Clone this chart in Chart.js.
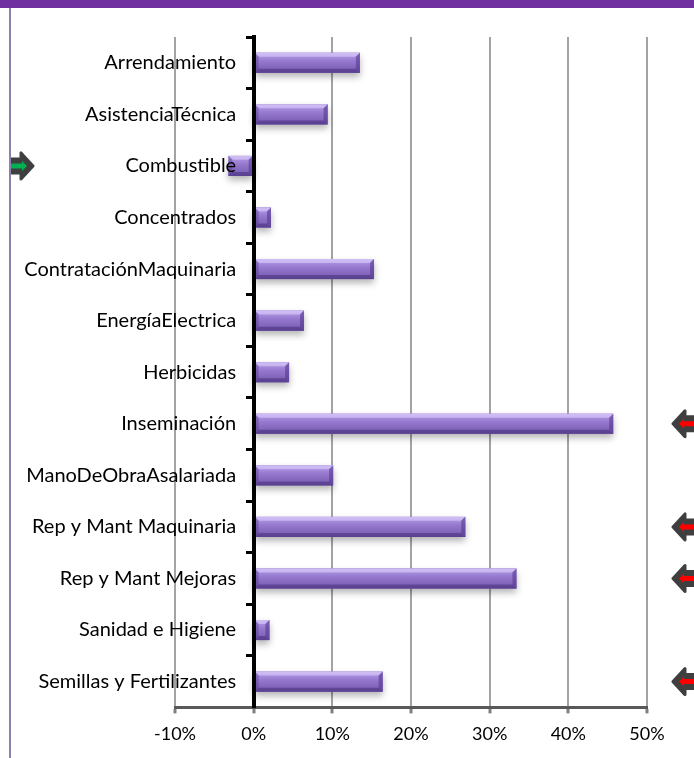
<!DOCTYPE html>
<html>
<head>
<meta charset="UTF-8">
<title>Variación de costos</title>
<script src="https://cdn.jsdelivr.net/npm/chart.js"></script>
<style>
body{margin:0;background:#fff;}
#wrap{position:relative;width:694px;height:758px;overflow:hidden;}
#franja{position:absolute;left:0;top:0;width:694px;height:8px;background:#7030a0;}
#borde{position:absolute;left:9px;top:8px;width:2px;height:750px;background:#8c80b0;}
canvas{position:absolute;left:0;top:0;}
</style>
</head>
<body>
<div id="wrap">
<canvas id="grafico" width="694" height="758"></canvas>
<div id="franja"></div>
<div id="borde"></div>
</div>
<script>
// Datos (variacion en %)
const categorias = ['Arrendamiento','AsistenciaTécnica','Combustible','Concentrados','ContrataciónMaquinaria',
  'EnergíaElectrica','Herbicidas','Inseminación','ManoDeObraAsalariada','Rep y Mant Maquinaria',
  'Rep y Mant Mejoras','Sanidad e Higiene','Semillas y Fertilizantes'];
const valores = [13.5, 9.4, -3.2, 2.2, 15.3, 6.4, 4.5, 45.7, 10.1, 26.9, 33.4, 2.0, 16.4];
const ejeMin = -10, ejeMax = 50, ejePaso = 10;

// Flechas indicadoras
const flechasRojas = ['Inseminación','Rep y Mant Maquinaria','Rep y Mant Mejoras','Semillas y Fertilizantes'];
const flechasVerdes = ['Combustible'];

const FUENTE = 'Lato, "Open Sans", sans-serif';

// barras con bisel y sombra
const biselPlugin = {
  id:'bisel',
  afterDatasetsDraw(chart){
    const ctx = chart.ctx;
    const meta = chart.getDatasetMeta(0);
    meta.data.forEach(el=>{
      const p = el.getProps(['x','y','base','height'], true);
      const L = Math.min(p.x,p.base), R = Math.max(p.x,p.base);
      const T = p.y - p.height/2, B = p.y + p.height/2;
      const w = R-L, h = B-T;
      const b = Math.min(4, w/2);
      ctx.save();
      // sombra
      ctx.shadowColor = 'rgba(0,0,0,0.3)';
      ctx.shadowBlur = 7;
      ctx.shadowOffsetY = 4;
      ctx.fillStyle = '#7a5db3';
      ctx.fillRect(L,T,w,h);
      ctx.restore();
      ctx.save();
      const g = ctx.createLinearGradient(0,T,0,B);
      g.addColorStop(0,'#b8a0ec');
      g.addColorStop(0.4,'#977acf');
      g.addColorStop(1,'#7458ad');
      ctx.fillStyle = g;
      ctx.fillRect(L,T,w,h);
      // borde superior claro
      ctx.fillStyle = 'rgba(230,220,255,0.5)';
      ctx.beginPath();
      ctx.moveTo(L,T);ctx.lineTo(R,T);ctx.lineTo(R-b,T+b);ctx.lineTo(L+b,T+b);ctx.closePath();ctx.fill();
      // borde inferior oscuro
      ctx.fillStyle = 'rgba(60,35,110,0.45)';
      ctx.beginPath();
      ctx.moveTo(L,B);ctx.lineTo(R,B);ctx.lineTo(R-b,B-b);ctx.lineTo(L+b,B-b);ctx.closePath();ctx.fill();
      // extremos
      ctx.fillStyle = 'rgba(85,55,145,0.6)';
      ctx.beginPath();
      ctx.moveTo(R,T);ctx.lineTo(R,B);ctx.lineTo(R-b,B-b);ctx.lineTo(R-b,T+b);ctx.closePath();ctx.fill();
      ctx.fillStyle = 'rgba(70,45,130,0.35)';
      ctx.beginPath();
      ctx.moveTo(L,T);ctx.lineTo(L+b,T+b);ctx.lineTo(L+b,B-b);ctx.lineTo(L,B);ctx.closePath();ctx.fill();
      ctx.restore();
    });
  }
};

function flecha(ctx, xp, cy, dir, color){
  // dir=-1 apunta a la izquierda, 1 a la derecha; xp = punta
  const X = d => xp - dir*d;
  ctx.save();
  ctx.fillStyle = '#3f3f3f';
  ctx.strokeStyle = '#3f3f3f';
  ctx.lineJoin = 'round';
  ctx.lineWidth = 3;
  ctx.beginPath();
  ctx.moveTo(X(0),cy);
  ctx.lineTo(X(12),cy-13);
  ctx.lineTo(X(12),cy-7);
  ctx.lineTo(X(30),cy-7);
  ctx.lineTo(X(30),cy+7);
  ctx.lineTo(X(12),cy+7);
  ctx.lineTo(X(12),cy+13);
  ctx.closePath();
  ctx.fill();ctx.stroke();
  ctx.fillStyle = color;
  ctx.beginPath();
  ctx.moveTo(X(6),cy);
  ctx.lineTo(X(11),cy-5);
  ctx.lineTo(X(11),cy-2.5);
  ctx.lineTo(X(26),cy-2.5);
  ctx.lineTo(X(26),cy+2.5);
  ctx.lineTo(X(11),cy+2.5);
  ctx.lineTo(X(11),cy+5);
  ctx.closePath();
  ctx.fill();
  ctx.restore();
}

const flechasPlugin = {
  id:'flechas',
  afterDraw(chart){
    const ctx = chart.ctx, y = chart.scales.y;
    flechasRojas.forEach(c=>{
      flecha(ctx, chart.width-21, y.getPixelForValue(categorias.indexOf(c)), -1, '#ff0000');
    });
    flechasVerdes.forEach(c=>{
      const cy = y.getPixelForValue(categorias.indexOf(c));
      ctx.save();
      ctx.beginPath();ctx.rect(11,0,chart.width,chart.height);ctx.clip();
      flecha(ctx, 33, cy, 1, '#00b050');
      ctx.restore();
    });
  }
};

new Chart(document.getElementById('grafico'),{
  type:'bar',
  data:{
    labels:categorias,
    datasets:[{data:valores, backgroundColor:'rgba(0,0,0,0)', borderWidth:0,
      barPercentage:0.39, categoryPercentage:1}]
  },
  options:{
    indexAxis:'y',
    responsive:false,
    devicePixelRatio:1,
    animation:false,
    layout:{padding:{left:175,right:47,top:37,bottom:3}},
    plugins:{legend:{display:false},tooltip:{enabled:false}},
    scales:{
      x:{
        min:ejeMin,max:ejeMax,
        ticks:{stepSize:ejePaso,padding:10,color:'#000',font:{family:FUENTE,size:18},
          callback:v=>v+'%'},
        grid:{color:c=>c.tick && c.tick.value===0?'#000':'#a3a3a3',lineWidth:2,
          tickLength:6,tickWidth:3,tickColor:'#7f7f7f'},
        border:{color:'#595959',width:3}
      },
      y:{
        position:{x:0},
        offset:true,
        ticks:{z:1,color:'#000',font:{family:FUENTE,size:20},
          callback:function(v){return this.getLabelForValue(v)+'\u2003\u2009';}},
        grid:{offset:true,drawOnChartArea:false,tickLength:6,tickWidth:3,tickColor:'#000'},
        border:{z:1,color:'#000',width:4}
      }
    }
  },
  plugins:[biselPlugin,flechasPlugin]
});
</script>
</body>
</html>
